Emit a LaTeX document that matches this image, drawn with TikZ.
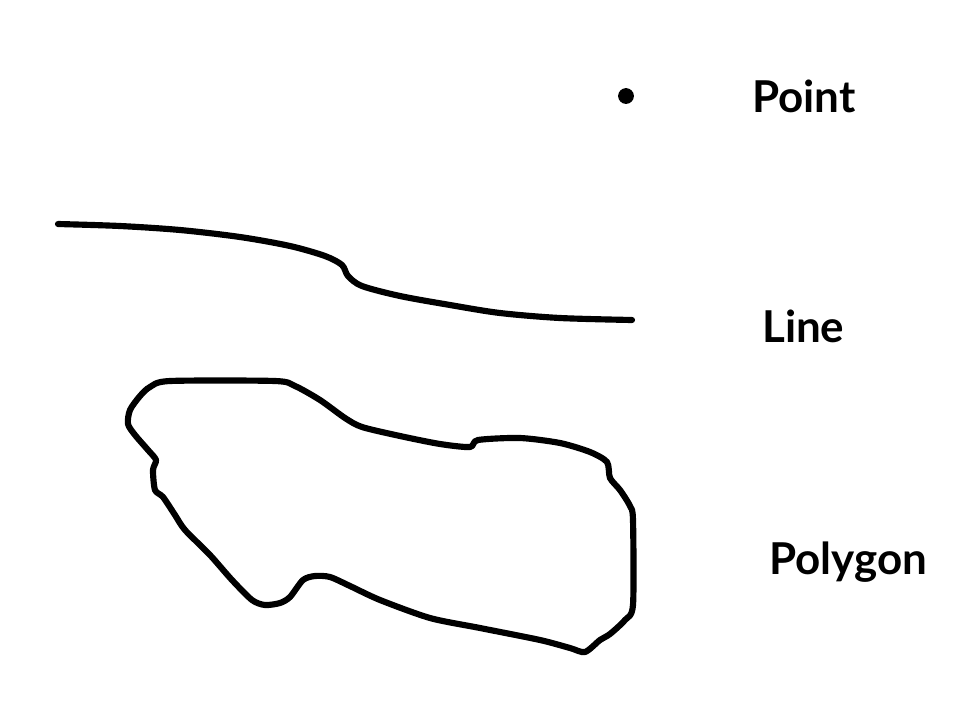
\documentclass[tikz,border=0pt]{standalone}
\usepackage{fontspec}
\setmainfont{Lato}
\usepackage{tikz}
\usetikzlibrary{positioning}

\tikzset{
  feature/.style={line width=3.5pt, black, line join=round, line cap=round},
  label/.style={font=\fontsize{25}{30}\selectfont\bfseries, anchor=west}
}

\begin{document}
\begin{tikzpicture}[x=0.02cm, y=-0.02cm]
  \useasboundingbox (0,0) rectangle (968,724);
  % Point feature
  \node[circle, fill=black, inner sep=0pt, minimum size=9pt] (pt) at (626,96) {};
  \node[label] (ptlab) at (746,96) {Point};
  % Line feature
  \draw[feature] plot[smooth, tension=0.5] coordinates {
    (58,224) (120,226) (180,230) (240,237) (290,246) (325,256) (342,265)
    (348,276) (362,286) (400,296) (450,305) (500,313) (560,318) (632,320)};
  \node[label] (linelab) at (756,326) {Line};
  % Polygon feature
  \draw[feature] plot[smooth cycle, tension=0.45] coordinates {
    (170,381) (275,381) (295,386) (320,400) (345,418) (362,427) (400,436)
    (440,444) (470,447) (478,440) (520,438) (560,443) (590,452) (607,462)
    (610,478) (620,490) (630,506) (633,520) (633,605) (625,620) (610,634)
    (600,640) (585,652) (570,648) (540,640) (480,628) (430,618) (380,600)
    (350,586) (330,577) (315,576) (303,580) (290,597) (280,603) (265,605)
    (252,600) (232,580) (210,555) (185,530) (175,515) (163,497) (155,490)
    (153,470) (156,460) (148,450) (135,435) (128,424) (130,410) (140,396)
    (150,387)};
  \node[label] (polylab) at (763,562) {Polygon};
\end{tikzpicture}
\end{document}
